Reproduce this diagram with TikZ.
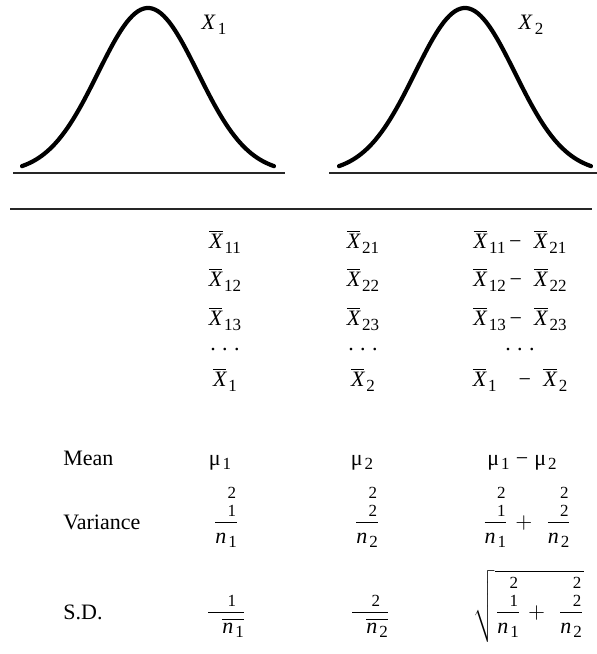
\documentclass[tikz,border=0pt]{standalone}
\usepackage{fontspec}
\setmainfont{Liberation Serif}
\usepackage{tikz}
\usetikzlibrary{positioning}
\newcommand{\sz}{\fontsize{8.5}{10}\selectfont}
\newcommand{\sub}[1]{\raisebox{-.45ex}{\sz #1}}
\newcommand{\Xb}[1]{$\overline{\mbox{\itshape X}}$\kern1pt\sub{#1}}
\newcommand{\nb}[1]{\mbox{\itshape n}\kern1pt\sub{#1}}
\newcommand{\vnum}[1]{\hbox{\phantom{σ}\rlap{\raisebox{1.45ex}{\sz 2}}\raisebox{-.35ex}{\sz #1}}}
\newcommand{\vfr}[1]{\displaystyle\frac{\vnum{#1}}{\hbox{\nb{#1}}}}
\newcommand{\sfr}[1]{\displaystyle\frac{\hbox{\phantom{σ}\raisebox{-.35ex}{\sz #1}}}{\hbox{\kern7pt}\overline{\hbox{\nb{#1}}}}}
\newcommand{\vdts}{.\kern3.2pt.\kern3.2pt.}
\tikzset{cell/.style={inner sep=0pt,font=\fontsize{11}{13}\selectfont},
 rowlab/.style={cell,anchor=base west},
 curve/.style={line width=2.1pt,line cap=round},
 rule/.style={line width=0.8pt,draw=black!85}}
\begin{document}
\begin{tikzpicture}[x=0.5pt,y=-0.5pt]
\useasboundingbox (0,0) rectangle (597,654);
\foreach \c/\n in {148/1,465/2}
 {\draw[curve] plot[domain=-2.52:2.52,samples=90] ({\c+50*\x},{173-165*exp(-0.5*(\x)*(\x))});
  \node[cell] (lab\n) at (\c+66,25) {\textit{X}\kern1pt\sub{\n}};}
\draw[rule] (13,173) -- (285,173);
\draw[rule] (329,173) -- (597,173);
\draw[rule] (10,209) -- (592,209);
\foreach \r/\y/\a/\b in {1/242/11/21,2/280/12/22,3/319/13/23}
 {\node[cell] (a\r) at (225,\y) {\Xb{\a}};
  \node[cell] (b\r) at (363,\y) {\Xb{\b}};
  \node[cell] (d\r) at (520,\y) {\Xb{\a}\,−\;\;\Xb{\b}};}
\node[cell] (adots) at (225,350) {\vdts};
\node[cell] (bdots) at (363,350) {\vdts};
\node[cell] (ddots) at (520,350) {\vdts};
\node[cell] (a4) at (225,380) {\Xb{1}};
\node[cell] (b4) at (363,380) {\Xb{2}};
\node[cell] (d4) at (520,380) {\Xb{1}\quad−\;\;\Xb{2}};
\node[rowlab] (lmean) at (63,465) {Mean};
\node[rowlab] (lvar) at (63,529) {Variance};
\node[rowlab] (lsd) at (63,619) {S.D.};
\node[cell,anchor=base] (m1) at (220,465) {μ\kern1pt\sub{1}};
\node[cell,anchor=base] (m2) at (362,465) {μ\kern1pt\sub{2}};
\node[cell,anchor=base] (m3) at (522,465) {μ\kern1pt\sub{1}\;−\;μ\kern1pt\sub{2}};
\node[cell,anchor=base] (v1) at (226,528) {$\vfr{1}$};
\node[cell,anchor=base] (v2) at (367,528) {$\vfr{2}$};
\node[cell,anchor=base] (v3) at (527,528) {$\vfr{1}\kern1pt+\kern4pt\vfr{2}$};
\node[cell,anchor=base] (s1) at (226,618) {$\sfr{1}$};
\node[cell,anchor=base] (s2) at (370,618) {$\sfr{2}$};
\node[cell,anchor=base] (s3) at (529,618) {$\sqrt{\vfr{1}\kern1pt+\kern4pt\vfr{2}}$};
\end{tikzpicture}
\end{document}
